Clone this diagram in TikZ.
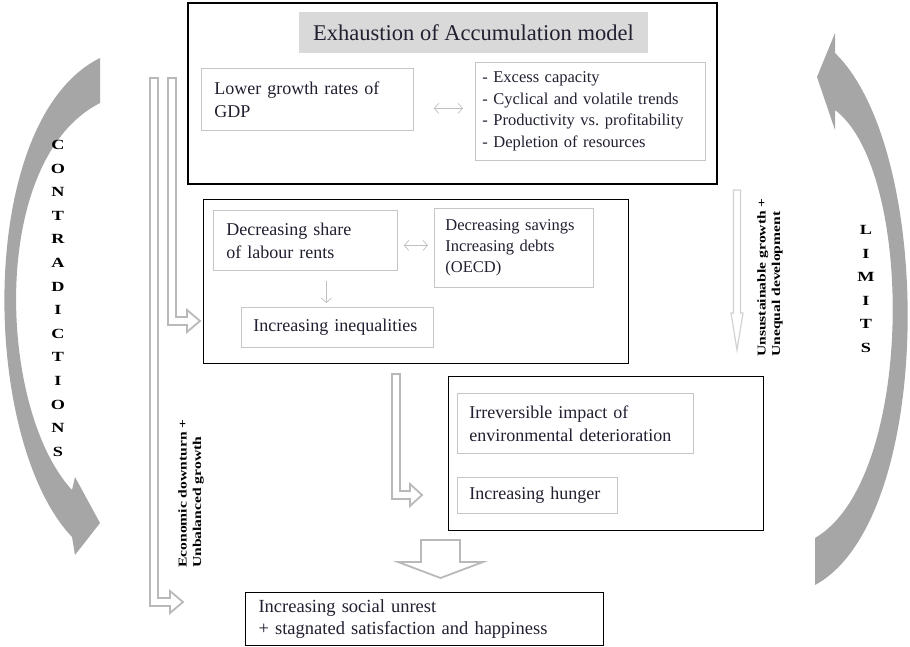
\documentclass[tikz,border=0pt]{standalone}
\usepackage{fontspec}
\setmainfont{Liberation Serif}
\newfontfamily\widefont[FakeStretch=1.3]{Liberation Serif}
\usetikzlibrary{arrows.meta}

\definecolor{txt}{RGB}{35,31,48}
\definecolor{band}{RGB}{166,166,166}
\definecolor{titlefill}{RGB}{217,217,217}

% hollow L-shaped arrow: style, shaft x, top, bend y, head base x, tip x
\newcommand\hollowL[6]{%
  \draw[#1] ({#2-4},#3) -- ({#2-4},{#4+4}) -- (#5,{#4+4}) -- (#5,{#4+11}) -- (#6,#4)
    -- (#5,{#4-11}) -- (#5,{#4-4}) -- ({#2+4},{#4-4}) -- ({#2+4},#3) -- cycle;}
% hollow down arrow: style, x, half shaft, top, head base, half head, tip
\newcommand\hollowdown[7]{%
  \draw[#1] ({#2-#3},#4) -- ({#2-#3},#5) -- ({#2-#6},#5) -- (#2,#7)
    -- ({#2+#6},#5) -- ({#2+#3},#5) -- ({#2+#3},#4) -- cycle;}

\begin{document}
\begin{tikzpicture}[
    x=1pt, y=-1pt, >={Straight Barb[length=4.5pt,width=10pt]},
    outbox/.style ={draw=black, line width=1.3pt, anchor=north west, inner sep=0pt},
    titlebox/.style={fill=titlefill, text=txt, minimum width=349, minimum height=41, font=\fontsize{22.5}{26}\selectfont},
    inbox/.style  ={draw=gray!45, line width=0.8pt, fill=white, text=txt, anchor=north west, align=left,
                    inner xsep=13pt, inner ysep=0pt, font=\fontsize{18}{23}\selectfont},
    lnk/.style    ={draw=gray!50, line width=0.7pt},
    hollow/.style ={draw=gray!55, line width=1.8pt, fill=white, line join=miter},
    crescent/.style={fill=band},
    sidelbl/.style={rotate=90, anchor=north west, align=left, inner sep=0pt, text=black,
                    font=\widefont\bfseries\fontsize{12}{14.5}\selectfont},
    vletter/.style={inner sep=0pt, text=black, font=\widefont\bfseries\fontsize{14}{14}\selectfont},
]
\useasboundingbox (0,0) rectangle (910,647);

% side arrows
\fill[crescent] (100,58) .. controls (-25,120) and (-20,440) .. (72,537) -- (75,555) -- (100,523)
  -- (75,477) -- (72,490) .. controls (-2,410) and (-12,160) .. (100,103) -- cycle;
\fill[crescent] (815,585) .. controls (935,520) and (935,150) .. (835,53) -- (835,33) -- (817,77)
  -- (835,130) -- (835,110) .. controls (915,170) and (915,480) .. (815,538) -- cycle;
\foreach \ch [count=\i] in {C,O,N,T,R,A,D,I,C,T,I,O,N,S}
  \node[vletter] (contra\i) at (58,{145+23.6*(\i-1)}) {\ch};
\foreach \ch [count=\i] in {L,I,M,I,T,S}
  \node[vletter] (limit\i) at (866,{230+23.6*(\i-1)}) {\ch};

% top block
\node[outbox, line width=2pt, minimum width=529, minimum height=181] (accum) at (187,2) {};
\node[titlebox] (title) at (473.5,32.5) {Exhaustion of Accumulation model};
\node[inbox, minimum width=212, minimum height=62, text width=186] (gdp) at (201,68) {Lower growth rates of\\GDP};
\node[inbox, minimum width=230, minimum height=98, text width=216, inner xsep=7pt,
      font=\fontsize{16.5}{21.5}\selectfont] (causes) at (475,62)
  {- Excess capacity\\- Cyclical and volatile trends\\- Productivity vs.\ profitability\\- Depletion of resources};
\draw[lnk, <->, shorten <=20pt, shorten >=12pt] ([yshift=-9pt]gdp.east) -- ([yshift=-9pt]gdp.east -| causes.west);

% middle block
\node[outbox, minimum width=425, minimum height=164] (social) at (203,199) {};
\node[inbox, minimum width=184, minimum height=60, text width=158] (labour) at (213,210) {Decreasing share\\of labour rents};
\node[inbox, minimum width=159, minimum height=79, text width=137, inner xsep=11pt,
      font=\fontsize{16.5}{21}\selectfont] (savings) at (434,208) {Decreasing savings\\Increasing debts\\(OECD)};
\node[inbox, minimum width=192, minimum height=40, text width=168, inner xsep=12pt] (ineq) at (241,307) {Increasing inequalities};
\draw[lnk, <->, shorten <=6pt, shorten >=6pt] ([yshift=-5pt]labour.east) -- ([yshift=-5pt]labour.east -| savings.west);
\coordinate (ineqtop) at ([xshift=-11pt]ineq.north);
\draw[lnk, ->, shorten <=10pt, shorten >=4pt] (ineqtop |- labour.south) -- (ineqtop);

% lower block
\node[outbox, minimum width=315, minimum height=154] (envbox) at (448,376) {};
\node[inbox, minimum width=236, minimum height=60, text width=212, inner xsep=12pt] (irrev) at (457,393) {Irreversible impact of\\environmental deterioration};
\node[inbox, minimum width=160, minimum height=36, text width=136, inner xsep=12pt] (hunger) at (457,477) {Increasing hunger};

\node[outbox, line width=1.1pt, minimum width=358, minimum height=53, text width=332, align=left,
      inner xsep=13pt, text=txt, font=\fontsize{18.5}{22}\selectfont] (unrest) at (245,592)
  {Increasing social unrest\\+ stagnated satisfaction and happiness};

% block arrows
\hollowL{hollow}{154}{78}{602}{170}{183}
\hollowL{hollow}{172}{78}{321}{187}{200}
\hollowL{hollow}{396}{374}{495}{410}{422}
\hollowdown{hollow}{440.5}{19.5}{540}{562}{42.5}{578}
\hollowdown{hollow, draw=gray!35, line width=1.2pt}{737}{3.5}{190}{313}{6}{350}

\node[sidelbl] (downturn) at (178,568) {Economic downturn +\\Unbalanced growth};
\node[sidelbl] (unsust) at (757,357) {Unsustainable growth +\\Unequal development};
\end{tikzpicture}
\end{document}
